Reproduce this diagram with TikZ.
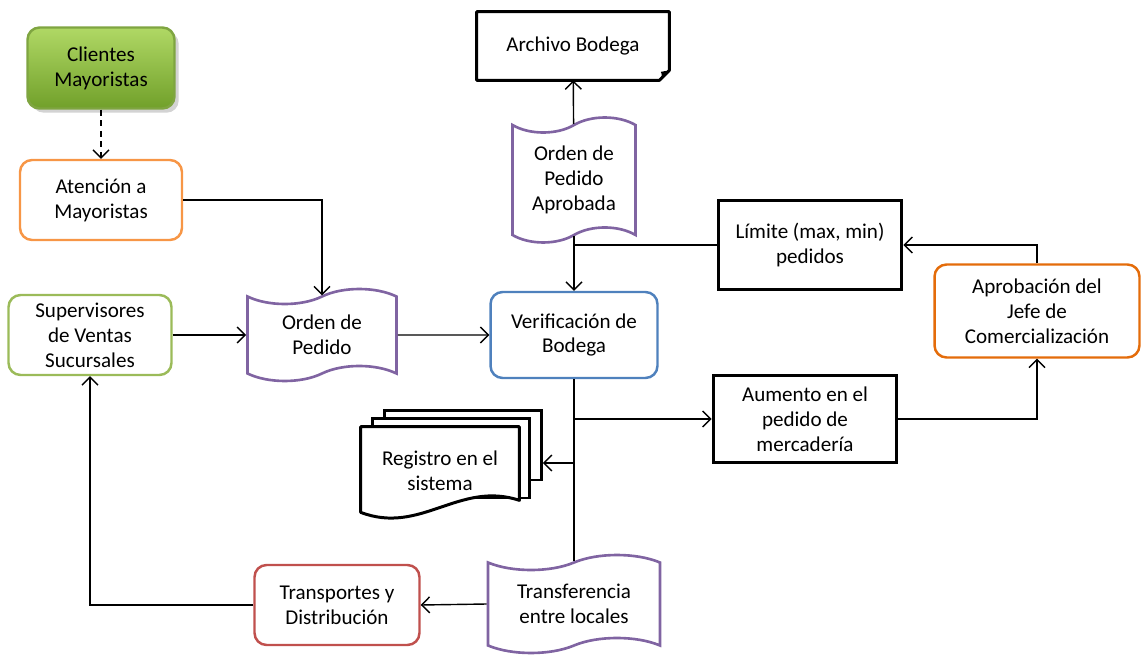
\documentclass[tikz,border=0pt]{standalone}
\usepackage{fontspec}
\setmainfont{Carlito}
\usetikzlibrary{positioning,shapes.symbols,arrows.meta,shadows}
\pgfdeclarelayer{background}
\pgfsetlayers{background,main}
\definecolor{ofgreen}{HTML}{9BBB59}
\definecolor{oforange}{HTML}{F79646}
\definecolor{ofdarkorange}{HTML}{E46C0A}
\definecolor{ofpurple}{HTML}{8064A2}
\definecolor{ofblue}{HTML}{4F81BD}
\definecolor{ofred}{HTML}{C0504D}
\definecolor{clitop}{HTML}{B0D865}
\definecolor{clibot}{HTML}{71A02A}
\definecolor{cliedge}{HTML}{7FA541}

\begin{document}
\begin{tikzpicture}[x=0.02cm, y=-0.02cm,
            font=\fontsize{12}{14.2}\selectfont,
            box/.style={rectangle, rounded corners=0.24cm, draw, line width=1.4pt, fill=white, align=center, inner sep=2pt, minimum width=3.24cm, minimum height=1.6cm},
            blackbox/.style={rectangle, draw, line width=1.7pt, fill=white, align=center, inner sep=2pt, minimum width=3.68cm, minimum height=1.78cm},
            paper/.style={tape, draw=ofpurple, line width=1.5pt, fill=white, align=center, inner sep=2pt, tape bend height=0.3cm},
            sheet/.style={rectangle, draw, line width=1.7pt, fill=white},
            arrow/.style={-{Straight Barb[length=1.6mm,width=3.2mm]}, line width=0.8pt},
            line/.style={line width=0.8pt}
        ]
        \useasboundingbox (0,0) rectangle (1143,655);
        % Left column
        \node[box, draw=cliedge, top color=clitop, bottom color=clibot, minimum width=2.94cm, minimum height=1.62cm, drop shadow={opacity=0.35}] (cli) at (101,68) {Clientes\\Mayoristas};
        \node[box, draw=oforange] (ate) at (101,200) {Atención a\\Mayoristas};
        \node[box, draw=ofgreen, minimum width=3.26cm] (sup) at (90,335) {Supervisores\\de Ventas\\Sucursales};
        \node[box, draw=ofred, minimum width=3.3cm] (trp) at (337,605) {Transportes y\\Distribución};
        % Documents
        \node[paper, minimum width=2.98cm, minimum height=1.84cm] (ord) at (322,335) {Orden de\\Pedido};
        \node[paper, minimum width=2.46cm, minimum height=2.5cm] (apr) at (574,180) {Orden de\\Pedido\\Aprobada};
        \node[paper, minimum width=3.44cm, minimum height=1.96cm] (tra) at (574,604) {Transferencia\\entre locales};
        % Centre
        \node[box, draw=ofblue, minimum width=3.34cm, minimum height=1.72cm] (ver) at (574,335) {Verificación de\\Bodega};
        \node[align=center, minimum width=3.84cm, minimum height=1.36cm] (arc) at (573,46) {Archivo Bodega};
        \draw[line width=1.7pt, line join=round] (arc.north west) -- (arc.north east) -- ([yshift=0.2cm]arc.south east) -- ([xshift=-0.2cm]arc.south east) -- (arc.south west) -- cycle;
        \fill ([yshift=0.2cm]arc.south east) -- ([xshift=-0.2cm]arc.south east) .. controls ([xshift=-0.14cm,yshift=0.1cm]arc.south east) .. ([xshift=-0.17cm,yshift=0.17cm]arc.south east) -- cycle;
        % Registro (stacked sheets)
        \node[align=center, minimum width=3.16cm, minimum height=1.76cm] (reg) at (440,471) {Registro en el\\sistema};
        \begin{pgfonlayer}{background}
            \node[sheet, minimum width=3.14cm, minimum height=1.4cm] (reg3) at (463,445) {};
            \node[sheet, minimum width=3.16cm, minimum height=1.6cm] (reg2) at (451,458) {};
            \draw[line width=1.7pt, fill=white, line join=round] ([yshift=0.06cm]reg.south west) -- (reg.north west) -- (reg.north east) -- ([yshift=0.3cm]reg.south east) .. controls ([xshift=-1.2cm,yshift=0.7cm]reg.south east) and ([xshift=1.2cm,yshift=-0.4cm]reg.south west) .. ([yshift=0.06cm]reg.south west) -- cycle;
        \end{pgfonlayer}
        % Right side
        \node[blackbox] (lim) at (810,245) {Límite (max, min)\\pedidos};
        \node[blackbox, minimum height=1.76cm] (aum) at (805,419) {Aumento en el\\pedido de\\mercadería};
        \node[box, draw=ofdarkorange, minimum width=4.1cm, minimum height=1.86cm] (jef) at (1037,311) {Aprobación del\\Jefe de\\Comercialización};
        % Arrows
        \draw[arrow, dash pattern=on 3.5pt off 2.5pt] (cli) -- (ate);
        \draw[arrow] (ate.east) -| (ord.north);
        \draw[arrow] (sup.east) -- (sup.east -| ord.west);
        \draw[arrow] (ord) -- (ver);
        \draw[arrow] (apr) -- (arc);
        \draw[arrow] (apr.south) -- (ver.north);
        \draw[line] (lim.west) -- (lim.west -| apr.south);
        \draw[arrow] (jef.north) |- (lim.east);
        \draw[line] (ver.south) -- (tra.north);
        \draw[arrow] (ver.south |- aum.west) -- (aum.west);
        \coordinate (regin) at ([yshift=0.16cm]reg.east -| reg3.east);
        \draw[arrow] (regin -| ver.south) -- (regin);
        \draw[arrow] (aum.east) -| (jef.south);
        \draw[arrow] (tra.west) -- (trp.east);
        \draw[arrow] (trp.west) -| (sup.south);
    \end{tikzpicture}
\end{document}
